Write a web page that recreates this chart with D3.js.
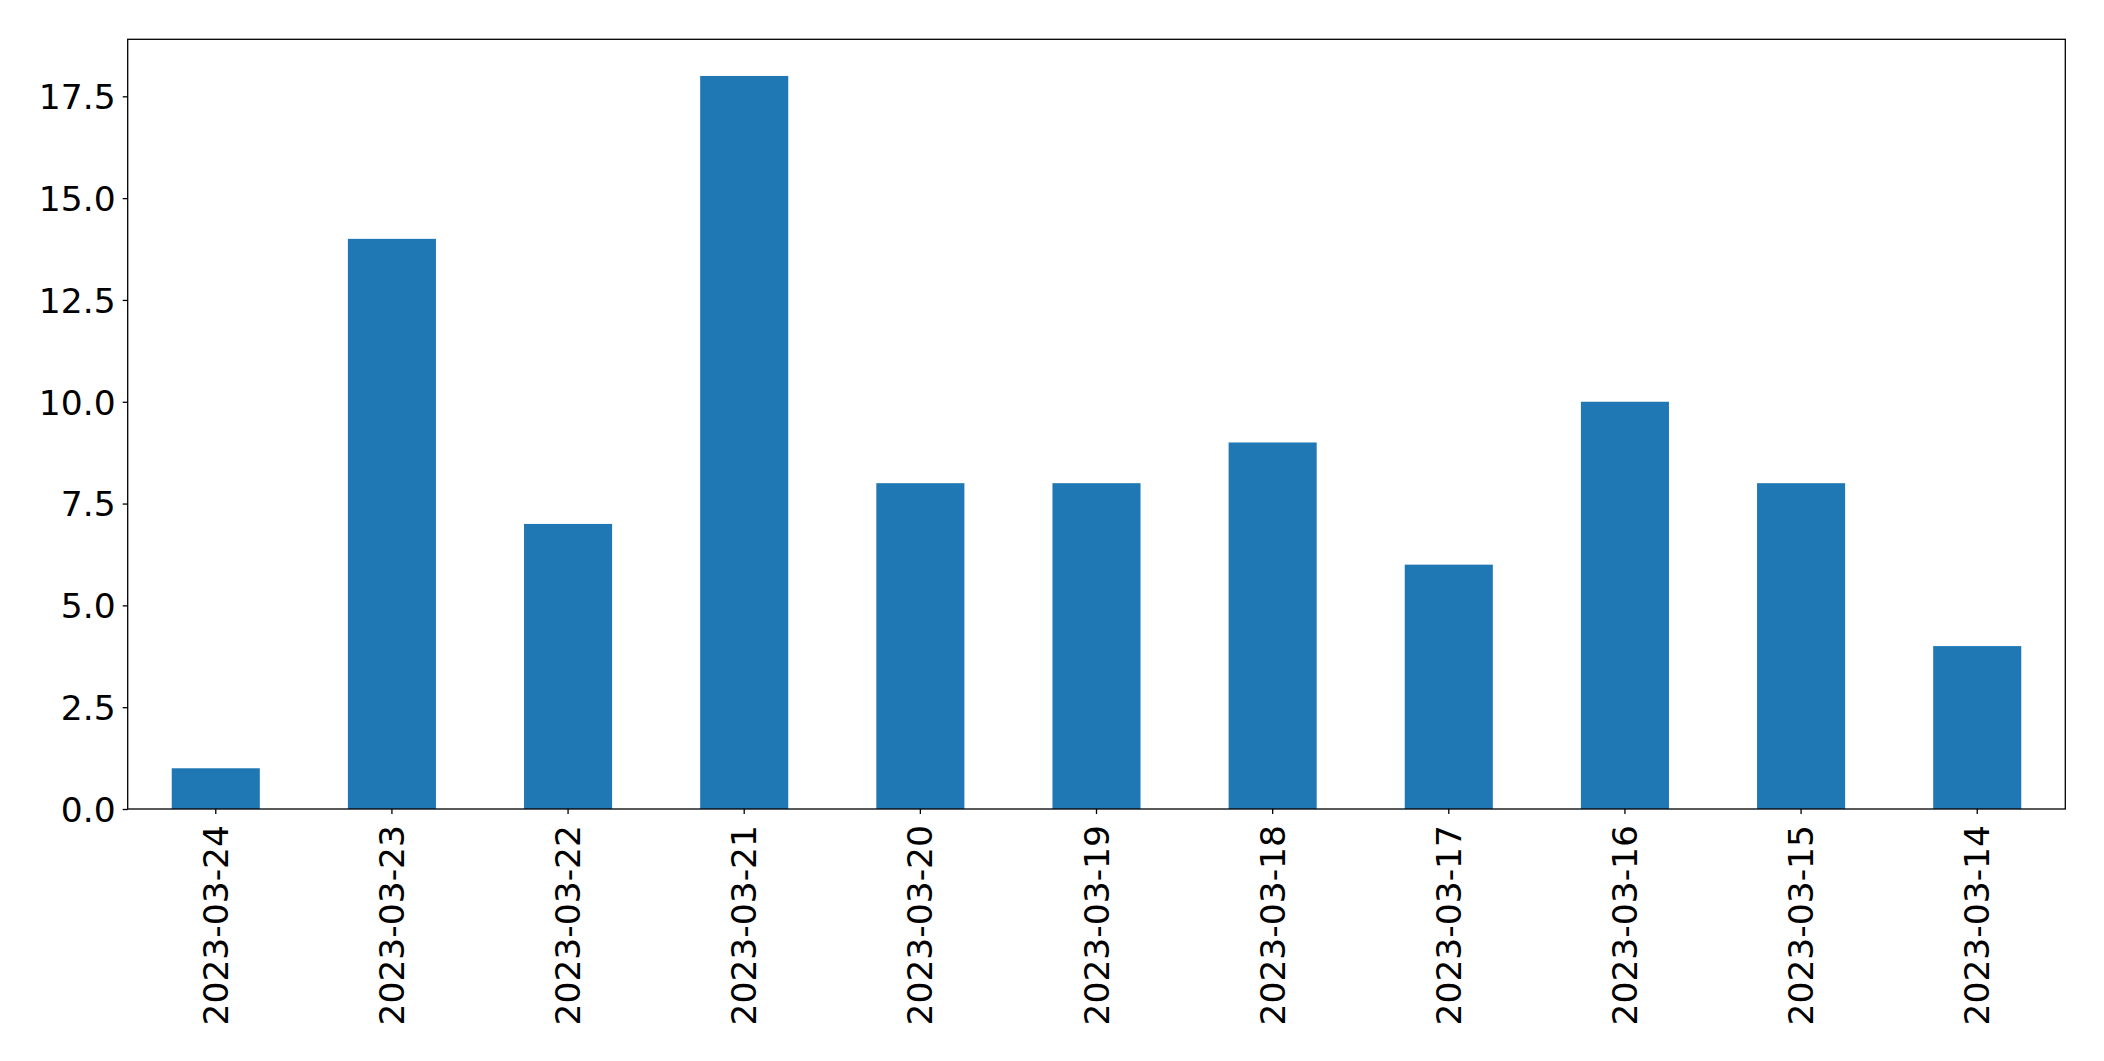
<!DOCTYPE html>
<html>
<head>
<meta charset="utf-8">
<script src="https://cdn.jsdelivr.net/npm/d3@7"></script>
<style>
html,body{margin:0;padding:0;background:#fff;}
svg{display:block;}
text{font-family:"DejaVu Sans",sans-serif;}
</style>
</head>
<body>
<svg id="chart" width="2104" height="1061"></svg>
<script>
const categories = ["2023-03-24","2023-03-23","2023-03-22","2023-03-21","2023-03-20","2023-03-19","2023-03-18","2023-03-17","2023-03-16","2023-03-15","2023-03-14"];
const values = [1,14,7,18,8,8,9,6,10,8,4];
const yTicks = [0,2.5,5,7.5,10,12.5,15,17.5];

const svg = d3.select("#chart");
const m = {left:127.7, right:2065.3, top:39.3, bottom:809};
const x = d3.scaleBand().domain(categories).range([m.left, m.right]).paddingInner(0.5).paddingOuter(0.25);
const y = d3.scaleLinear().domain([0, 18.9]).range([m.bottom, m.top]);

svg.append("g").selectAll("rect").data(values).join("rect")
  .attr("x",(d,i)=>x(categories[i]))
  .attr("width",x.bandwidth())
  .attr("y",d=>y(d))
  .attr("height",d=>y(0)-y(d))
  .attr("fill","#1f77b4");

const fs = "34.5px";
const yAxis = svg.append("g").attr("transform",`translate(${m.left},0)`)
  .call(d3.axisLeft(y).tickValues(yTicks).tickFormat(d3.format(".1f")).tickSize(5).tickPadding(7));
yAxis.select(".domain").remove();
yAxis.selectAll("text").style("font-size",fs).attr("fill","#000").attr("dy","0.36em");
yAxis.selectAll("line").attr("stroke","#000").attr("stroke-width",1.3);

const xAxis = svg.append("g").attr("transform",`translate(0,${m.bottom})`)
  .call(d3.axisBottom(x).tickSize(5).tickPadding(7));
xAxis.select(".domain").remove();
xAxis.selectAll("line").attr("stroke","#000").attr("stroke-width",1.3);
xAxis.selectAll("text").style("font-size",fs).attr("fill","#000")
  .attr("transform","rotate(-90)")
  .attr("text-anchor","end")
  .attr("x",-16).attr("y",0).attr("dy","0.35em");

svg.append("rect").attr("x",m.left).attr("y",m.top)
  .attr("width",m.right-m.left).attr("height",m.bottom-m.top)
  .attr("fill","none").attr("stroke","#000").attr("stroke-width",1.3);
</script>
</body>
</html>
